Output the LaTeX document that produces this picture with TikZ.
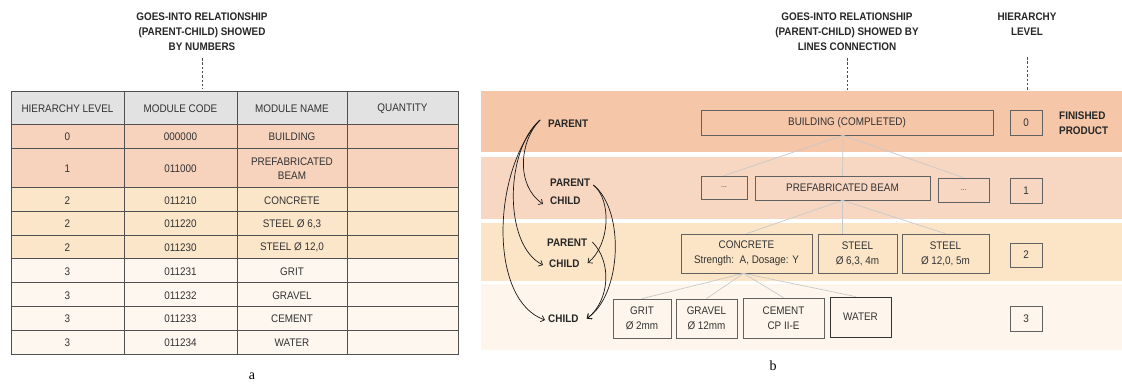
\documentclass[tikz,border=0pt]{standalone}
\usepackage{fontspec}
\setmainfont{Liberation Sans}
\newfontfamily\narrow[FakeStretch=0.9]{Liberation Sans}
\newfontfamily\serifa{Liberation Serif}
\usetikzlibrary{arrows.meta,calc}
\definecolor{bandA}{RGB}{245,198,168}
\definecolor{bandB}{RGB}{248,215,194}
\definecolor{bandC}{RGB}{252,229,199}
\definecolor{bandD}{RGB}{254,246,236}
\definecolor{tabA}{RGB}{247,210,189}
\definecolor{tabB}{RGB}{252,230,202}
\definecolor{tabC}{RGB}{254,247,239}
\definecolor{hdr}{RGB}{226,226,226}
\definecolor{txt}{RGB}{50,50,50}
\definecolor{grid}{RGB}{80,80,80}
\definecolor{conn}{RGB}{200,200,200}
\tikzset{
  cell/.style={text=txt, inner sep=0pt, align=center, yshift=-1pt, font=\narrow\fontsize{11}{14}\selectfont},
  title/.style={font=\narrow\bfseries\fontsize{11}{15}\selectfont, align=center, text=black!85, inner sep=0pt},
  mbox/.style={draw=grid!90, line width=0.7pt, text=txt, inner sep=0pt, align=center, font=\narrow\fontsize{11}{15}\selectfont},
  lbl/.style={font=\narrow\bfseries\fontsize{11}{12}\selectfont, text=black!85, inner sep=0pt, anchor=west},
  guide/.style={draw=black!70, line width=0.6pt, dash pattern=on 2.5pt off 1.8pt},
  link/.style={draw=conn, line width=0.7pt},
  goes/.style={draw=black!90, line width=0.7pt, -{Straight Barb[length=3.5pt,width=6.5pt]}},
}
\begin{document}
\begin{tikzpicture}[x=1pt,y=-1pt]
\useasboundingbox (0,0) rectangle (1122,383);
% ---------- table (a) ----------
\fill[hdr] (11,91) rectangle (458,124);
\fill[tabA] (11,124) rectangle (458,187);
\fill[tabB] (11,187) rectangle (458,258);
\fill[tabC] (11,258) rectangle (458,354);
\foreach \yy in {124,148,187,211,235,258,282,306,330}
  \draw[grid, line width=0.7pt] (11,\yy) -- (458,\yy);
\foreach \xx in {124,237,347}
  \draw[grid, line width=0.7pt] (\xx,91) -- (\xx,354);
\draw[grid, line width=0.9pt] (11,91) rectangle (458,354);
\node[cell] (h1) at (67.5,108) {HIERARCHY LEVEL};
\node[cell] (h2) at (180.5,108) {MODULE CODE};
\node[cell] (h3) at (292,108) {MODULE NAME};
\node[cell] (h4) at (402.5,108) {QUANTITY};
\foreach \i/\lv/\code/\nm/\yc in {0/0/000000/BUILDING/136,
  1/1/011000/{PREFABRICATED\\BEAM}/167.5,
  2/2/011210/CONCRETE/199.5,
  3/2/011220/{STEEL Ø 6,3}/223,
  4/2/011230/{STEEL Ø 12,0}/246.5,
  5/3/011231/GRIT/270.5,
  6/3/011232/GRAVEL/294.5,
  7/3/011233/CEMENT/318,
  8/3/011234/WATER/342}
{
  \node[cell] (lv\i) at (67.5,\yc) {\lv};
  \node[cell] (cd\i) at (180.5,\yc) {\code};
  \node[cell] (nm\i) at (292,\yc) {\nm};
}
\node[title] (tA) at (202,32) {GOES-INTO RELATIONSHIP\\(PARENT-CHILD) SHOWED\\BY NUMBERS};
\coordinate (tAt) at (202,58);
\coordinate (tAb) at (202,89);
\draw[guide] (tAt) -- (tAb);
\node[font=\serifa\fontsize{14}{14}\selectfont, inner sep=0pt] (la) at (252,376) {a};
% ---------- hierarchy (b) ----------
\fill[bandA] (481,91) rectangle (1122,152);
\fill[bandB] (481,157) rectangle (1122,219);
\fill[bandC] (481,223) rectangle (1122,281);
\fill[bandD] (481,284) rectangle (1122,350);
\node[mbox, minimum width=292, minimum height=25] (bld) at (847,122.5) {BUILDING (COMPLETED)};
\node[mbox, minimum width=32, minimum height=25] (l0) at (1026,122.5) {0};
\node[lbl, align=left, font=\narrow\bfseries\fontsize{11}{15}\selectfont] (fp) at (1059,123) {FINISHED\\PRODUCT};
\node[mbox, minimum width=46, minimum height=23, font=\fontsize{7}{8}\selectfont] (d1) at (724,187.5) {...};
\node[mbox, minimum width=175, minimum height=24] (pb) at (842.5,188) {PREFABRICATED BEAM};
\node[mbox, minimum width=51, minimum height=24, font=\fontsize{7}{8}\selectfont] (d2) at (963.5,190) {...};
\node[mbox, minimum width=32, minimum height=25] (l1) at (1026,190.5) {1};
\node[mbox, minimum width=131, minimum height=39] (conc) at (746.5,253.5) {CONCRETE\\Strength:\ \ A, Dosage: Y};
\node[mbox, minimum width=79, minimum height=39] (st1) at (857.5,253.5) {STEEL\\Ø 6,3, 4m};
\node[mbox, minimum width=87, minimum height=39] (st2) at (945.5,253.5) {STEEL\\Ø 12,0, 5m};
\node[mbox, minimum width=32, minimum height=24] (l2) at (1026,255) {2};
\node[mbox, minimum width=58, minimum height=39] (grit) at (642,318.5) {GRIT\\Ø 2mm};
\node[mbox, minimum width=61, minimum height=39] (grav) at (706.5,318.5) {GRAVEL\\Ø 12mm};
\node[mbox, minimum width=81, minimum height=40] (cem) at (783.5,318) {CEMENT\\CP II-E};
\node[mbox, minimum width=61, minimum height=40, draw=black!80, line width=0.9pt] (wat) at (860.5,317) {WATER};
\node[mbox, minimum width=32, minimum height=25] (l3) at (1026,318.5) {3};
% tree links
\draw[link] ([xshift=-4pt]bld.south) -- (d1.north);
\draw[link] ([xshift=-4pt]bld.south) -- (pb.north);
\draw[link] ([xshift=-4pt]bld.south) -- (d2.north);
\draw[link] (pb.south) -- (conc.north);
\draw[link] (pb.south) -- (pb.south |- st1.north);
\draw[link] (pb.south) -- (st2.north);
\draw[link] ([xshift=-3pt]conc.south) -- (grit.north);
\draw[link] ([xshift=-3pt]conc.south) -- (grav.north);
\draw[link] ([xshift=-3pt]conc.south) -- (cem.north);
\draw[link] ([xshift=-3pt]conc.south) -- ([xshift=-5pt]wat.north);
% titles
\node[title] (tB) at (847,32) {GOES-INTO RELATIONSHIP\\(PARENT-CHILD) SHOWED BY\\LINES CONNECTION};
\coordinate (tBt) at (847,58);
\coordinate (tBb) at (847,90);
\draw[guide] (tBt) -- (tBb);
\node[title] (tC) at (1027,24) {HIERARCHY\\LEVEL};
\coordinate (tCt) at (1027,57);
\coordinate (tCb) at (1027,90);
\draw[guide] (tCt) -- (tCb);
% parent / child labels
\node[lbl] (p0) at (548,124) {PARENT};
\node[lbl] (p1) at (550,182.5) {PARENT};
\node[lbl] (c1) at (550,201) {CHILD};
\node[lbl] (p2) at (547,243) {PARENT};
\node[lbl] (c2) at (549,263.5) {CHILD};
\node[lbl] (c3) at (548,319) {CHILD};
% goes-into arrows
\draw[goes] ([xshift=-8pt,yshift=4pt]p0.west) .. controls (520,140) and (515,185) .. ([xshift=-7pt,yshift=-3pt]c1.west);
\draw[goes] ([xshift=-8pt,yshift=4pt]p0.west) .. controls (505,150) and (503,245) .. ([xshift=-6pt,yshift=-1.5pt]c2.west);
\draw[goes] ([xshift=-8pt,yshift=4pt]p0.west) .. controls (492,170) and (488,300) .. ([xshift=-3pt,yshift=-1pt]c3.west);
\draw[goes] ([xshift=3pt,yshift=-2.5pt]p1.east) .. controls (612,200) and (610,245) .. ([xshift=8pt,yshift=0.5pt]c2.east);
\draw[goes] ([xshift=3pt,yshift=-2.5pt]p1.east) .. controls (625,210) and (622,295) .. ([xshift=8pt,yshift=0.5pt]c3.east);
\draw[goes] ([xshift=5pt,yshift=1pt]p2.east) .. controls (612,262) and (610,300) .. ([xshift=8.5pt,yshift=0.5pt]c3.east);
\node[font=\serifa\fontsize{14}{14}\selectfont, inner sep=0pt] (lb) at (773,366) {b};
\end{tikzpicture}
\end{document}
